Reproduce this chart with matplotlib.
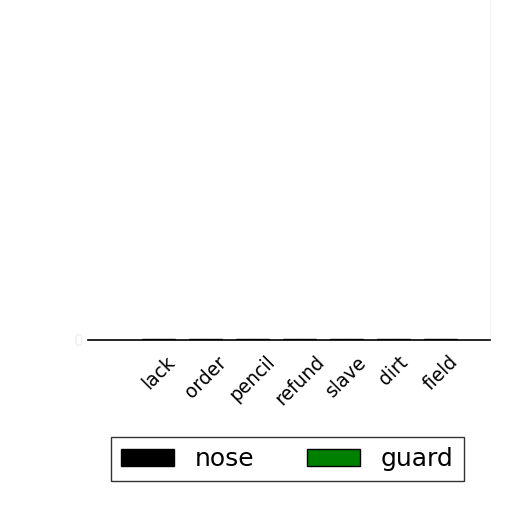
import numpy as np
import matplotlib
matplotlib.use("Agg")
import matplotlib.pyplot as plt

categories = ["lack", "order", "pencil", "refund", "slave", "dirt", "field"]
nose = [0.3, 0.3, 0.3, 0.3, 0.3, 0.3, 0.3]
guard = [0.4, 0.4, 0.4, 0.4, 0.4, 0.4, 0.4]

fig = plt.figure(figsize=(5.12, 5.12), dpi=100)
ax = fig.add_axes([0.172, 0.336, 0.785, 0.70])

x = np.arange(len(categories))
w = 0.35
ax.bar(x - w / 2, nose, w, color="black", edgecolor="black", label="nose")
ax.bar(x + w / 2, guard, w, color="green", edgecolor="black", label="guard")

ax.set_xlim(-1.5, 7.05)
ax.set_ylim(0, 100)
ax.set_xticks(x)
ax.set_xticklabels(categories, rotation=45, fontsize=13.5)
ax.tick_params(axis="x", length=0, pad=9)
ax.set_yticks([0])
ax.set_yticklabels(["0"], color="#eeeeee", fontsize=11)
ax.tick_params(axis="y", length=0)
for s in ["top", "left"]:
    ax.spines[s].set_visible(False)
ax.spines["right"].set_color("#f4f4f4")
ax.spines["bottom"].set_linewidth(1.2)

ax.legend(loc="upper center", bbox_to_anchor=(0.496, -0.271), ncol=2,
          fontsize=18, frameon=True, fancybox=False, edgecolor="black",
          handlelength=2.1, handletextpad=0.85, columnspacing=2.1,
          borderpad=0.4, borderaxespad=0)

fig.savefig("out.png", dpi=100)
